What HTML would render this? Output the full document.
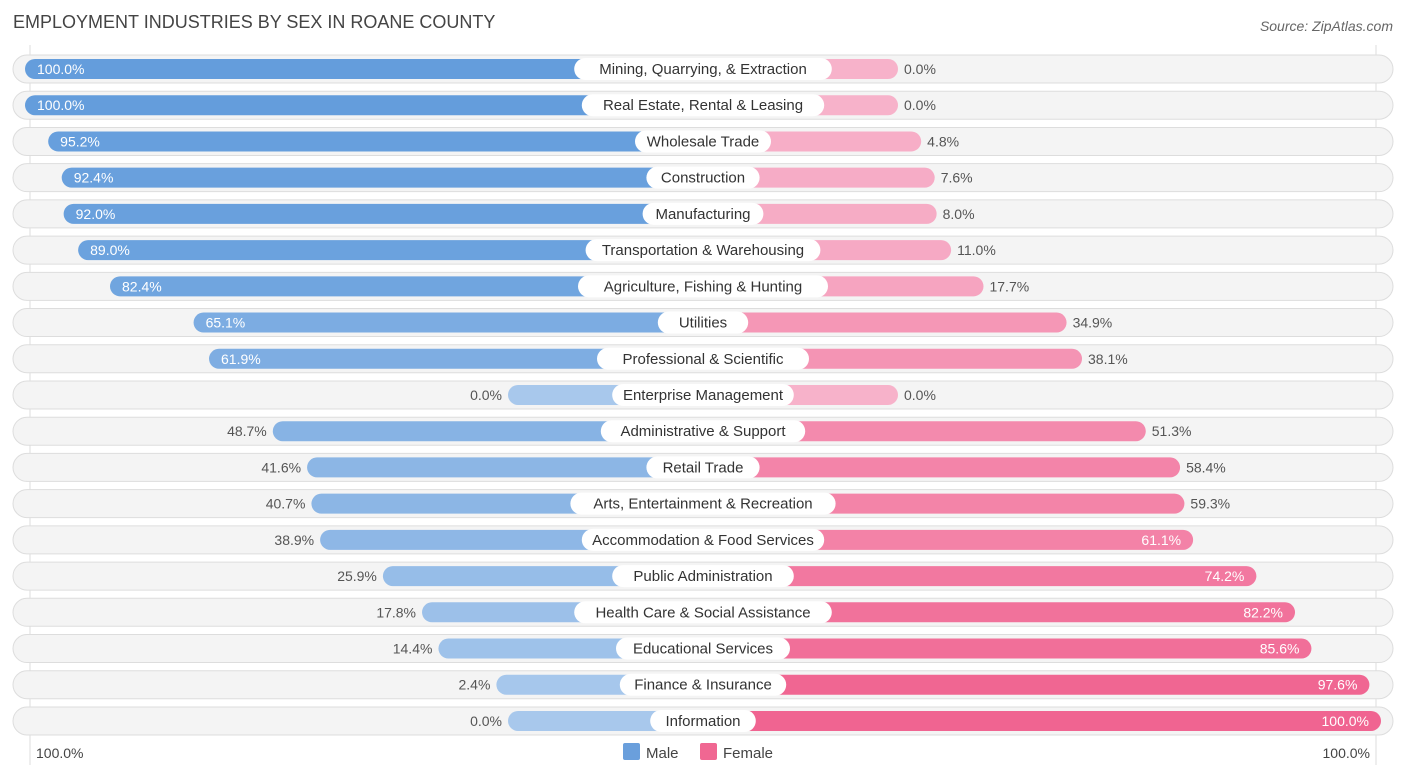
<!DOCTYPE html>
<html><head><meta charset="utf-8">
<style>
body{margin:0;background:#fff;font-family:"Liberation Sans",Arial,sans-serif;}
svg text{font-family:"Liberation Sans",Arial,sans-serif;}
</style></head>
<body>
<svg id="chart" width="1406" height="776" viewBox="0 0 1406 776" xmlns="http://www.w3.org/2000/svg">
<text x="13" y="28" font-size="18" fill="#444">EMPLOYMENT INDUSTRIES BY SEX IN ROANE COUNTY</text>
<text x="1393" y="31" font-size="14" fill="#666" font-style="italic" text-anchor="end">Source: ZipAtlas.com</text>
<line x1="30" y1="45" x2="30" y2="765" stroke="#ddd"/>
<line x1="1376" y1="45" x2="1376" y2="765" stroke="#ddd"/>
<g id="rows"></g>
<text x="36" y="758" font-size="14" fill="#444">100.0%</text>
<text x="1370" y="758" font-size="14" fill="#444" text-anchor="end">100.0%</text>
<g><rect x="623" y="743" width="17" height="17" rx="2" fill="#6a9fdc"/><text x="646" y="758" font-size="15" fill="#444">Male</text></g>
<g><rect x="700" y="743" width="17" height="17" rx="2" fill="#f06792"/><text x="723" y="758" font-size="15" fill="#444">Female</text></g>
</svg>
<script>
const categories=["Mining, Quarrying, & Extraction","Real Estate, Rental & Leasing","Wholesale Trade","Construction","Manufacturing","Transportation & Warehousing","Agriculture, Fishing & Hunting","Utilities","Professional & Scientific","Enterprise Management","Administrative & Support","Retail Trade","Arts, Entertainment & Recreation","Accommodation & Food Services","Public Administration","Health Care & Social Assistance","Educational Services","Finance & Insurance","Information"];
const maleValues=[100,100,95.2,92.4,92.0,89.0,82.4,65.1,61.9,0,48.7,41.6,40.7,38.9,25.9,17.8,14.4,2.4,0];
const femaleValues=[0,0,4.8,7.6,8.0,11.0,17.7,34.9,38.1,0,51.3,58.4,59.3,61.1,74.2,82.2,85.6,97.6,100];
const NS="http://www.w3.org/2000/svg";
const cx=703, base=195, scale=4.83, y0=69, step=36.22;
function mx(v){return cx-base-v*scale;}
function fx(v){return cx+base+v*scale;}
function yr(i){return y0+i*step;}
function mix(a,b,t){return 'rgb('+a.map((c,k)=>Math.round(c+(b[k]-c)*t)).join(',')+')';}
function mk(tag,attrs){const e=document.createElementNS(NS,tag);for(const k in attrs)e.setAttribute(k,attrs[k]);return e;}
const g=document.getElementById('rows');
categories.forEach((c,i)=>{
  const y=yr(i);
  const row=mk('g',{});
  
  
  const bg=mk('rect',{x:13,y:y-14,width:1380,height:28,rx:14,fill:'#f4f4f4',stroke:'#ddd'});
  
  
  row.appendChild(bg);
  const m=maleValues[i], f=femaleValues[i];
  const mb=mk('rect',{x:mx(m),y:y-10,width:cx-mx(m),height:20,rx:10,fill:mix([168,200,236],[100,157,220],m/100)});
  
  
  row.appendChild(mb);
  const fb=mk('rect',{x:cx,y:y-10,width:fx(f)-cx,height:20,rx:10,fill:mix([247,178,202],[240,100,145],f/100)});
  
  
  row.appendChild(fb);
  const lw=c.length*7.6+22;
  const lb=mk('rect',{x:cx-lw/2,y:y-11,width:lw,height:22,rx:11,fill:'#fff'});
  
  
  row.appendChild(lb);
  const lt=mk('text',{x:cx,y:y+5,'font-size':15,fill:'#333','text-anchor':'middle'});
  lt.textContent=c;
  
  
  row.appendChild(lt);
  const mIn=m>60;
  const mt=mk('text',{x:mIn?mx(m)+12:mx(m)-6,y:y+5,'font-size':14,fill:mIn?'#fff':'#555','text-anchor':mIn?'start':'end'});
  mt.textContent=m.toFixed(1)+'%';
  
  
  row.appendChild(mt);
  const fIn=f>60;
  const ft=mk('text',{x:fIn?fx(f)-12:fx(f)+6,y:y+5,'font-size':14,fill:fIn?'#fff':'#555','text-anchor':fIn?'end':'start'});
  ft.textContent=f.toFixed(1)+'%';
  
  
  row.appendChild(ft);
  g.appendChild(row);
});
</script>
</body></html>
